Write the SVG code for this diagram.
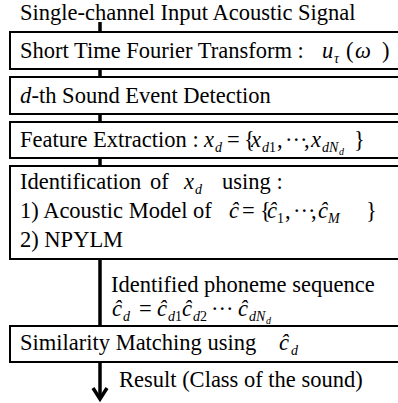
<svg xmlns="http://www.w3.org/2000/svg" width="398" height="403" viewBox="0 0 398 403">
<rect width="398" height="403" fill="#fff"/>
<g id="connectors" stroke="#000" stroke-width="3.5" fill="none">
<line x1="100" y1="22" x2="100" y2="32"/>
<line x1="100" y1="69" x2="100" y2="77"/>
<line x1="100" y1="114" x2="100" y2="122"/>
<line x1="100" y1="158" x2="100" y2="166"/>
<line x1="100" y1="259" x2="100" y2="326"/>
<line x1="100" y1="362" x2="100" y2="398"/>
<polyline points="93,388 100,399 107,388"/>
</g>
<g id="input">
<text x="20" y="20" font-family="Liberation Serif" font-size="22.5">Single-channel Input Acoustic Signal</text>
</g>
<g id="stft">
<rect x="10" y="32" width="400" height="37" fill="#fff" stroke="#000" stroke-width="2"/>
<text x="20" y="58" font-family="Liberation Serif" font-size="22.5">Short Time Fourier Transform :</text>
<text x="322" y="58" font-family="Liberation Serif" font-size="22.5" font-style="italic">u</text>
<text x="334" y="63" font-family="Liberation Serif" font-size="14" font-style="italic">&#964;</text>
<text x="346" y="58" font-family="Liberation Serif" font-size="22.5">(</text>
<text x="355" y="58" font-family="Liberation Serif" font-size="22.5" font-style="italic">&#969;</text>
<text x="382" y="58" font-family="Liberation Serif" font-size="22.5">)</text>
</g>
<g id="detection">
<rect x="10" y="77" width="400" height="37" fill="#fff" stroke="#000" stroke-width="2"/>
<text x="20" y="103" font-family="Liberation Serif" font-size="22.5" font-style="italic">d</text>
<text x="31.5" y="103" font-family="Liberation Serif" font-size="22.5">-th Sound Event Detection</text>
</g>
<g id="feature">
<rect x="10" y="122" width="400" height="36" fill="#fff" stroke="#000" stroke-width="2"/>
<text x="20" y="147" font-family="Liberation Serif" font-size="22.5">Feature Extraction :</text>
<text x="204" y="147" font-family="Liberation Serif" font-size="22.5" font-style="italic">x</text>
<text x="215" y="152" font-family="Liberation Serif" font-size="14" font-style="italic">d</text>
<text x="227" y="147" font-family="Liberation Serif" font-size="22.5">=</text>
<text x="244" y="147" font-family="Liberation Serif" font-size="22.5">{</text>
<text x="251" y="147" font-family="Liberation Serif" font-size="22.5" font-style="italic">x</text>
<text x="262" y="152" font-family="Liberation Serif" font-size="14" font-style="italic">d</text>
<text x="269" y="152" font-family="Liberation Serif" font-size="14">1</text>
<text x="277" y="147" font-family="Liberation Serif" font-size="22.5">,</text>
<text x="285" y="147" font-family="Liberation Serif" font-size="22.5">&#183;&#183;&#183;</text>
<text x="304" y="147" font-family="Liberation Serif" font-size="22.5">,</text>
<text x="311" y="147" font-family="Liberation Serif" font-size="22.5" font-style="italic">x</text>
<text x="322" y="152" font-family="Liberation Serif" font-size="14" font-style="italic">dN</text>
<text x="339" y="155" font-family="Liberation Serif" font-size="10" font-style="italic">d</text>
<text x="354" y="147" font-family="Liberation Serif" font-size="22.5">}</text>
</g>
<g id="identification">
<rect x="10" y="166" width="400" height="93" fill="#fff" stroke="#000" stroke-width="2"/>
<text x="20" y="189" font-family="Liberation Serif" font-size="22.5">Identification</text>
<text x="150" y="189" font-family="Liberation Serif" font-size="22.5">of</text>
<text x="184" y="189" font-family="Liberation Serif" font-size="22.5" font-style="italic">x</text>
<text x="195" y="194" font-family="Liberation Serif" font-size="14" font-style="italic">d</text>
<text x="222" y="189" font-family="Liberation Serif" font-size="22.5">using :</text>
<text x="20" y="218" font-family="Liberation Serif" font-size="22.5">1) Acoustic Model of</text>
<text x="229" y="218" font-family="Liberation Serif" font-size="22.5" font-style="italic">&#265;</text>
<text x="242" y="218" font-family="Liberation Serif" font-size="22.5">=</text>
<text x="260" y="218" font-family="Liberation Serif" font-size="22.5">{</text>
<text x="267" y="218" font-family="Liberation Serif" font-size="22.5" font-style="italic">&#265;</text>
<text x="277" y="223" font-family="Liberation Serif" font-size="14">1</text>
<text x="285" y="218" font-family="Liberation Serif" font-size="22.5">,</text>
<text x="293" y="218" font-family="Liberation Serif" font-size="22.5">&#183;&#183;&#183;</text>
<text x="311" y="218" font-family="Liberation Serif" font-size="22.5">,</text>
<text x="318" y="218" font-family="Liberation Serif" font-size="22.5" font-style="italic">&#265;</text>
<text x="328" y="223" font-family="Liberation Serif" font-size="14" font-style="italic">M</text>
<text x="366" y="218" font-family="Liberation Serif" font-size="22.5">}</text>
<text x="20" y="247" font-family="Liberation Serif" font-size="22.5">2) NPYLM</text>
</g>
<g id="phoneme-label">
<text x="111" y="292" font-family="Liberation Serif" font-size="22.5">Identified phoneme sequence</text>
<text x="112" y="316" font-family="Liberation Serif" font-size="22.5" font-style="italic">&#265;</text>
<text x="123" y="321" font-family="Liberation Serif" font-size="14" font-style="italic">d</text>
<text x="139" y="316" font-family="Liberation Serif" font-size="22.5">=</text>
<text x="157" y="316" font-family="Liberation Serif" font-size="22.5" font-style="italic">&#265;</text>
<text x="168" y="321" font-family="Liberation Serif" font-size="14" font-style="italic">d</text>
<text x="175" y="321" font-family="Liberation Serif" font-size="14">1</text>
<text x="182" y="316" font-family="Liberation Serif" font-size="22.5" font-style="italic">&#265;</text>
<text x="193" y="321" font-family="Liberation Serif" font-size="14" font-style="italic">d</text>
<text x="200" y="321" font-family="Liberation Serif" font-size="14">2</text>
<text x="211" y="316" font-family="Liberation Serif" font-size="22.5">&#183;&#183;&#183;</text>
<text x="238" y="316" font-family="Liberation Serif" font-size="22.5" font-style="italic">&#265;</text>
<text x="249" y="321" font-family="Liberation Serif" font-size="14" font-style="italic">dN</text>
<text x="266" y="324" font-family="Liberation Serif" font-size="10" font-style="italic">d</text>
</g>
<g id="similarity">
<rect x="10" y="326" width="400" height="36" fill="#fff" stroke="#000" stroke-width="2"/>
<text x="20" y="350" font-family="Liberation Serif" font-size="22.5">Similarity Matching using</text>
<text x="279" y="350" font-family="Liberation Serif" font-size="22.5" font-style="italic">&#265;</text>
<text x="291" y="355" font-family="Liberation Serif" font-size="14" font-style="italic">d</text>
</g>
<g id="result-label">
<text x="119" y="387" font-family="Liberation Serif" font-size="22.5">Result (Class of the sound)</text>
</g>
</svg>
